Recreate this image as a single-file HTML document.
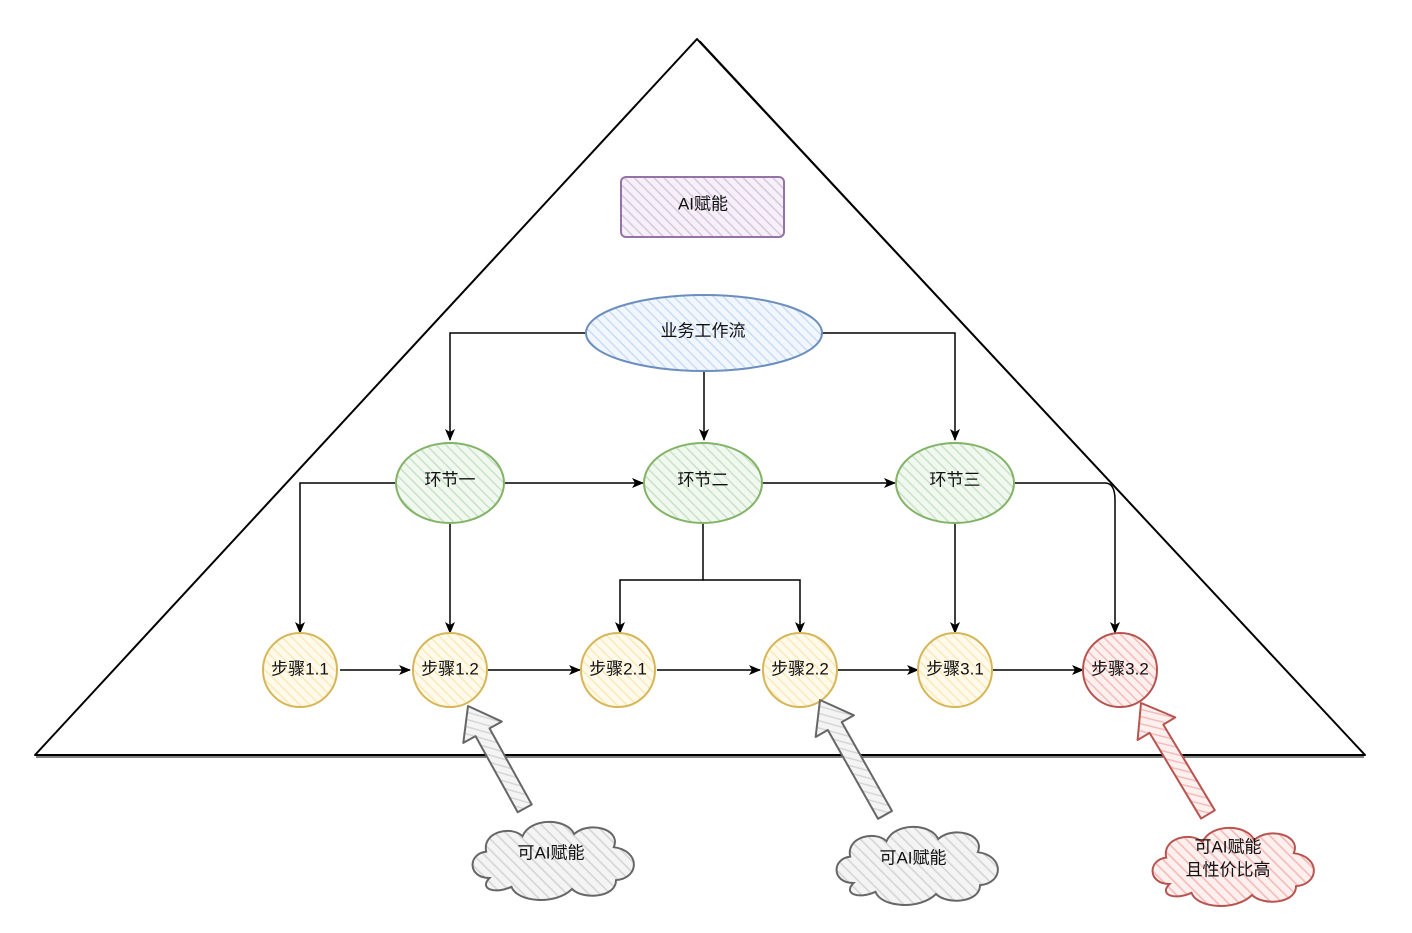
<!DOCTYPE html>
<html><head><meta charset="utf-8"><style>
html,body{margin:0;padding:0;background:#fff;}
svg text{font-family:"Liberation Sans","Noto Sans CJK SC",sans-serif;font-size:17px;fill:#111;text-anchor:middle;dominant-baseline:central;}
</style></head><body>
<svg width="1412" height="928" viewBox="0 0 1412 928" xmlns="http://www.w3.org/2000/svg">
<defs>
<pattern id="hp" width="7" height="7" patternUnits="userSpaceOnUse" patternTransform="rotate(-45)"><rect width="7" height="7" fill="#f6f0f8"/><line x1="0" y1="0" x2="0" y2="7" stroke="#d9c6e0" stroke-width="3"/></pattern>
<pattern id="hb" width="7" height="7" patternUnits="userSpaceOnUse" patternTransform="rotate(-45)"><rect width="7" height="7" fill="#f2f7fe"/><line x1="0" y1="0" x2="0" y2="7" stroke="#c9dcf6" stroke-width="3"/></pattern>
<pattern id="hg" width="7" height="7" patternUnits="userSpaceOnUse" patternTransform="rotate(-45)"><rect width="7" height="7" fill="#f1f8f0"/><line x1="0" y1="0" x2="0" y2="7" stroke="#c8e2c6" stroke-width="3"/></pattern>
<pattern id="hy" width="7" height="7" patternUnits="userSpaceOnUse" patternTransform="rotate(-45)"><rect width="7" height="7" fill="#fffaec"/><line x1="0" y1="0" x2="0" y2="7" stroke="#fbe9b8" stroke-width="3"/></pattern>
<pattern id="hr" width="7" height="7" patternUnits="userSpaceOnUse" patternTransform="rotate(-45)"><rect width="7" height="7" fill="#fdf0ef"/><line x1="0" y1="0" x2="0" y2="7" stroke="#f4bcb9" stroke-width="3"/></pattern>
<pattern id="hk" width="7" height="7" patternUnits="userSpaceOnUse" patternTransform="rotate(-45)"><rect width="7" height="7" fill="#f4f4f4"/><line x1="0" y1="0" x2="0" y2="7" stroke="#d6d6d6" stroke-width="3"/></pattern>
<marker id="ar" markerWidth="12" markerHeight="12" refX="11" refY="6" orient="auto" markerUnits="userSpaceOnUse"><path d="M0,1 L12,6 L0,11 L3,6 Z" fill="#000"/></marker>
<path id="cloud" d="M25,60 C5,60 5,38 22,36 C18,18 45,12 55,22 C62,5 95,5 102,20 C115,8 145,15 138,32 C162,35 162,60 140,62 C140,78 110,80 100,70 C85,85 50,82 45,68 C30,75 15,70 25,60 Z"/>
</defs>
<path d="M697,39 L1365,755 L35,755 Z" fill="none" stroke="#000" stroke-width="2" stroke-linejoin="round"/>
<path d="M700,41 L1362,752 M36,757 L1364,757" fill="none" stroke="#000" stroke-width="1"/>

<rect x="621" y="177" width="163" height="60" rx="5" fill="url(#hp)" stroke="#9673a6" stroke-width="2"/>
<text x="703" y="204">AI赋能</text>

<g fill="none" stroke="#000" stroke-width="1.5">
<path d="M586,333 H450 V440" marker-end="url(#ar)"/>
<path d="M822,333 H955 V440" marker-end="url(#ar)"/>
<path d="M704,371 V440" marker-end="url(#ar)"/>
<path d="M395,483 H300 V633" marker-end="url(#ar)"/>
<path d="M450,523 V633" marker-end="url(#ar)"/>
<path d="M505,483 H643" marker-end="url(#ar)"/>
<path d="M763,483 H895" marker-end="url(#ar)"/>
<path d="M703,523 V580 H620 V633" marker-end="url(#ar)"/>
<path d="M703,580 H800 V633" marker-end="url(#ar)"/>
<path d="M955,523 V633" marker-end="url(#ar)"/>
<path d="M1015,483 H1105 Q1115,483 1115,500 L1115,633" marker-end="url(#ar)"/>
<path d="M340,670 H410" marker-end="url(#ar)"/>
<path d="M488,670 H580" marker-end="url(#ar)"/>
<path d="M657,670 H760" marker-end="url(#ar)"/>
<path d="M838,670 H918" marker-end="url(#ar)"/>
<path d="M993,670 H1083" marker-end="url(#ar)"/>
</g>

<ellipse cx="704" cy="333" rx="118" ry="38" fill="url(#hb)" stroke="#6c8ebf" stroke-width="2"/>
<text x="703" y="331">业务工作流</text>

<ellipse cx="450" cy="483" rx="54" ry="40" fill="url(#hg)" stroke="#82b366" stroke-width="2"/>
<text x="450" y="480">环节一</text>
<ellipse cx="703" cy="483" rx="59" ry="40" fill="url(#hg)" stroke="#82b366" stroke-width="2"/>
<text x="703" y="480">环节二</text>
<ellipse cx="955" cy="483" rx="59" ry="40" fill="url(#hg)" stroke="#82b366" stroke-width="2"/>
<text x="955" y="480">环节三</text>

<g stroke-width="2">
<circle cx="300" cy="670" r="37" fill="url(#hy)" stroke="#d6b656"/>
<circle cx="450" cy="670" r="37" fill="url(#hy)" stroke="#d6b656"/>
<circle cx="618" cy="670" r="37" fill="url(#hy)" stroke="#d6b656"/>
<circle cx="800" cy="670" r="37" fill="url(#hy)" stroke="#d6b656"/>
<circle cx="955" cy="670" r="37" fill="url(#hy)" stroke="#d6b656"/>
<circle cx="1120" cy="670" r="37" fill="url(#hr)" stroke="#b85450"/>
</g>
<text x="300" y="669">步骤1.1</text>
<text x="450" y="669">步骤1.2</text>
<text x="618" y="669">步骤2.1</text>
<text x="800" y="669">步骤2.2</text>
<text x="955" y="669">步骤3.1</text>
<text x="1120" y="669">步骤3.2</text>

<g stroke-width="2" stroke-linejoin="round">
<polygon transform="translate(468,706) rotate(-29)" points="0,0 22,30 8,30 8,117 -8,117 -8,30 -22,30" fill="url(#hk)" stroke="#666"/>
<polygon transform="translate(820,700) rotate(-29.5)" points="0,0 22,30 8,30 8,132 -8,132 -8,30 -22,30" fill="url(#hk)" stroke="#666"/>
<polygon transform="translate(1141,703) rotate(-31)" points="0,0 22,30 8,30 8,130 -8,130 -8,30 -22,30" fill="url(#hr)" stroke="#b85450"/>
</g>

<use href="#cloud" transform="translate(462,812) scale(1.1)" fill="url(#hk)" stroke="#666" stroke-width="1.8"/>
<text x="551" y="853">可AI赋能</text>
<use href="#cloud" transform="translate(826,817) scale(1.1)" fill="url(#hk)" stroke="#666" stroke-width="1.8"/>
<text x="913" y="858">可AI赋能</text>
<use href="#cloud" transform="translate(1142,818) scale(1.1)" fill="url(#hr)" stroke="#b85450" stroke-width="1.8"/>
<text x="1228" y="847">可AI赋能</text>
<text x="1228" y="870">且性价比高</text>
</svg>
</body></html>
